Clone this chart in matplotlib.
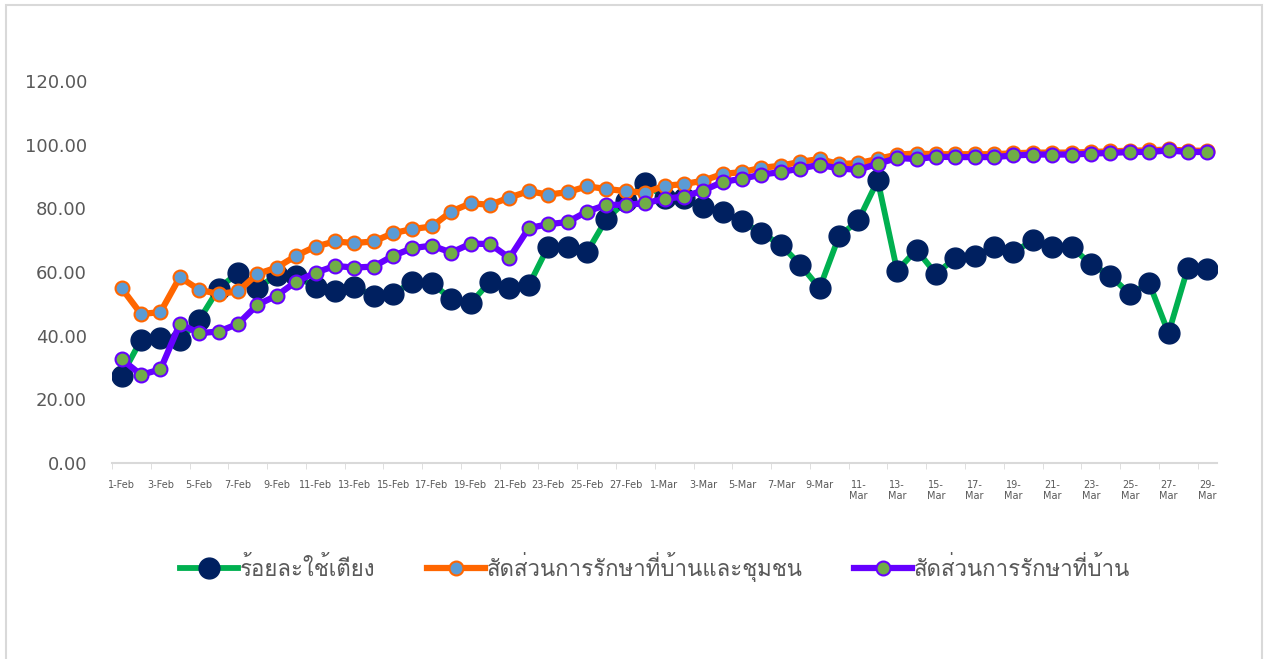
import matplotlib
matplotlib.use('Agg')
import matplotlib.pyplot as plt
from matplotlib import font_manager
from matplotlib.ft2font import FT2Font
from matplotlib.patches import Rectangle
import pandas as pd

# วันที่ (1 ก.พ. - 29 มี.ค.)
dates = pd.date_range('2022-02-01', '2022-03-29')
day_labels = [f'{d.day}-{d.strftime("%b")}' for d in dates]

names = ['ร้อยละใช้เตียง', 'สัดส่วนการรักษาที่บ้านและชุมชน', 'สัดส่วนการรักษาที่บ้าน']

bed_use = [27.4, 38.7, 39.2, 38.7, 45.0, 54.8, 59.8, 54.9, 59.1, 58.8,
           55.2, 53.9, 55.4, 52.5, 53.0, 57.0, 56.5, 51.5, 50.2, 57.0,
           55.1, 55.8, 68.0, 68.0, 66.2, 76.6, 82.2, 88.0, 83.2, 83.2,
           80.4, 79.0, 75.9, 72.2, 68.6, 62.3, 54.9, 71.2, 76.2, 88.8,
           60.4, 67.0, 59.4, 64.4, 65.1, 67.8, 66.2, 69.9, 67.8, 67.8,
           62.5, 58.8, 53.1, 56.5, 40.8, 61.4, 60.9]
home_comm = [54.9, 46.8, 47.4, 58.4, 54.4, 53.1, 53.9, 59.4, 61.4, 65.1,
             68.0, 69.6, 69.1, 69.6, 72.2, 73.5, 74.3, 79.0, 81.6, 81.1,
             83.4, 85.4, 84.3, 85.1, 86.9, 86.1, 85.4, 84.9, 87.1, 87.6,
             88.7, 90.8, 91.4, 92.7, 93.4, 94.6, 95.5, 93.9, 94.2, 95.5,
             96.9, 97.2, 97.0, 97.0, 97.0, 97.0, 97.3, 97.5, 97.5, 97.5,
             97.7, 97.9, 98.1, 98.2, 98.5, 98.1, 98.1]
home = [32.6, 27.7, 29.4, 43.7, 40.8, 41.3, 43.7, 49.7, 52.6, 57.0,
        59.8, 61.9, 61.4, 61.7, 65.1, 67.5, 68.3, 66.1, 68.9, 68.8,
        64.4, 73.8, 75.0, 75.7, 79.0, 81.1, 81.1, 81.6, 83.0, 83.7,
        85.6, 88.3, 89.3, 90.6, 91.4, 92.5, 93.7, 92.5, 92.1, 94.0,
        95.8, 95.5, 96.2, 96.1, 96.1, 96.1, 96.6, 96.9, 96.9, 96.9,
        97.2, 97.4, 97.7, 97.7, 98.2, 97.7, 97.7]


# หาฟอนต์ที่มีอักษรไทย
def thai_font():
    for f in font_manager.fontManager.ttflist:
        try:
            if FT2Font(f.fname).get_char_index(ord('ร')):
                return f.name
        except Exception:
            pass
    return 'DejaVu Sans'


tfont = thai_font()
plt.rcParams['font.family'] = [tfont, 'DejaVu Sans']

grey = '#595959'
x = list(range(len(dates)))

fig = plt.figure(figsize=(12.66, 6.59), dpi=100)
ax = fig.add_axes([112 / 1266, 1 - 463 / 659, 1105 / 1266, 382 / 659])

ax.plot(x, bed_use, color='#00B050', lw=4.2, marker='o', markersize=15,
        markerfacecolor='#002060', markeredgecolor='#002060', label=names[0], zorder=3)
ax.plot(x, home_comm, color='#FF6600', lw=4.5, marker='o', markersize=10,
        markerfacecolor='#5B9BD5', markeredgecolor='#FF6600', markeredgewidth=1.5,
        label=names[1], zorder=4)
ax.plot(x, home, color='#6600FF', lw=4.5, marker='o', markersize=10,
        markerfacecolor='#70AD47', markeredgecolor='#6600FF', markeredgewidth=1.5,
        label=names[2], zorder=5)

ax.set_ylim(0, 120)
ax.set_yticks(range(0, 121, 20))
ax.set_yticklabels([f'{v:.2f}' for v in range(0, 121, 20)], fontsize=13, color=grey,
                   family='DejaVu Sans')
ax.tick_params(axis='y', length=0, pad=18)

ax.set_xlim(-0.5, len(dates) - 0.5)
labs = []
for i in range(0, len(dates), 2):
    d = dates[i]
    if d.month == 3 and d.day >= 11:
        labs.append(f'{d.day}-\n{d.strftime("%b")}')
    else:
        labs.append(day_labels[i])
ax.set_xticks(x[::2])
ax.set_xticklabels(labs, fontsize=7, color=grey, family='DejaVu Sans', va='top')
ax.set_xticks([v - 0.5 for v in range(0, len(dates) + 1, 2)], minor=True)
ax.tick_params(axis='x', which='major', length=0, pad=12)
ax.tick_params(axis='x', which='minor', length=4, color='#D9D9D9')

for s in ['top', 'right', 'left']:
    ax.spines[s].set_visible(False)
ax.spines['bottom'].set_color('#D9D9D9')
ax.spines['bottom'].set_linewidth(1.5)

ax.legend(loc='center', bbox_to_anchor=(655 / 1266, 1 - 567 / 659), bbox_transform=fig.transFigure,
          ncol=3, frameon=False, fontsize=16, labelcolor=grey, handlelength=2.6,
          handletextpad=0.1, columnspacing=2.3)

fig.patches.append(Rectangle((6 / 1266, -0.02), 1256 / 1266, 1 - 5 / 659 + 0.02,
                             transform=fig.transFigure, fill=False,
                             edgecolor='#D9D9D9', lw=1.5))

fig.savefig('out.png', dpi=100)
